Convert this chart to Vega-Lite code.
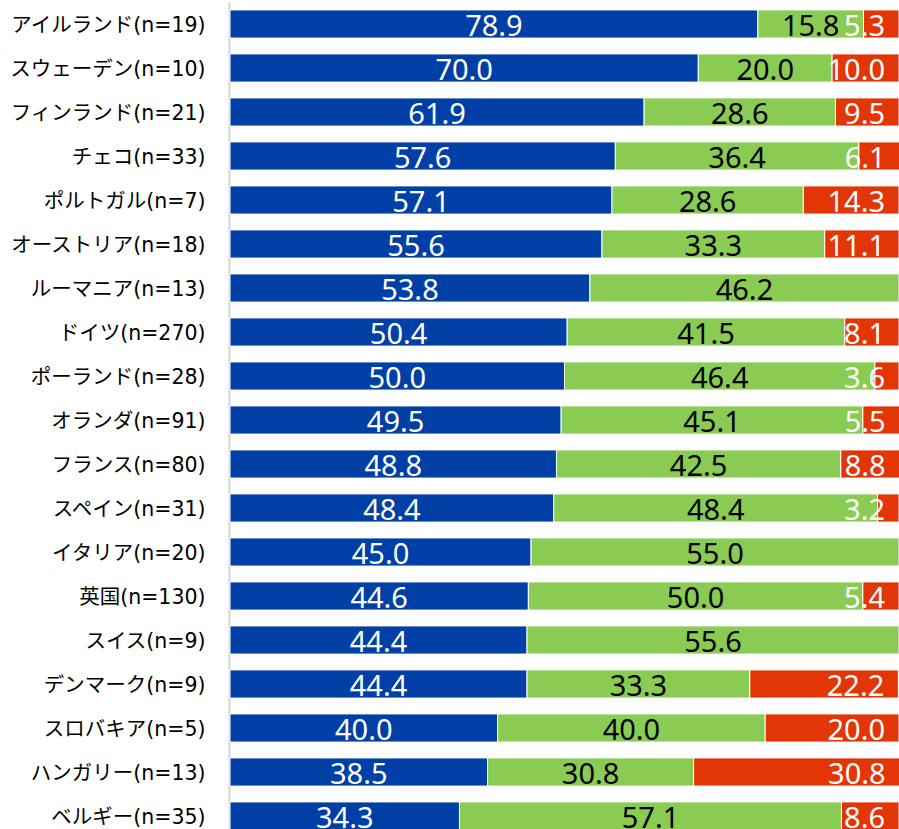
{
  "$schema": "https://vega.github.io/schema/vega-lite/v6.json",
  "width": 669,
  "height": 836,
  "autosize": "none",
  "padding": {"left": 230, "top": 2, "right": 0, "bottom": 0},
  "background": "white",
  "config": {
    "view": {"stroke": null},
    "font": "Noto Sans CJK JP"
  },
  "data": {
    "values": [
      {"c": "アイルランド(n=19)", "k": "a", "v": 78.9},
      {"c": "アイルランド(n=19)", "k": "b", "v": 15.8},
      {"c": "アイルランド(n=19)", "k": "c", "v": 5.3},
      {"c": "スウェーデン(n=10)", "k": "a", "v": 70.0},
      {"c": "スウェーデン(n=10)", "k": "b", "v": 20.0},
      {"c": "スウェーデン(n=10)", "k": "c", "v": 10.0},
      {"c": "フィンランド(n=21)", "k": "a", "v": 61.9},
      {"c": "フィンランド(n=21)", "k": "b", "v": 28.6},
      {"c": "フィンランド(n=21)", "k": "c", "v": 9.5},
      {"c": "チェコ(n=33)", "k": "a", "v": 57.6},
      {"c": "チェコ(n=33)", "k": "b", "v": 36.4},
      {"c": "チェコ(n=33)", "k": "c", "v": 6.1},
      {"c": "ポルトガル(n=7)", "k": "a", "v": 57.1},
      {"c": "ポルトガル(n=7)", "k": "b", "v": 28.6},
      {"c": "ポルトガル(n=7)", "k": "c", "v": 14.3},
      {"c": "オーストリア(n=18)", "k": "a", "v": 55.6},
      {"c": "オーストリア(n=18)", "k": "b", "v": 33.3},
      {"c": "オーストリア(n=18)", "k": "c", "v": 11.1},
      {"c": "ルーマニア(n=13)", "k": "a", "v": 53.8},
      {"c": "ルーマニア(n=13)", "k": "b", "v": 46.2},
      {"c": "ドイツ(n=270)", "k": "a", "v": 50.4},
      {"c": "ドイツ(n=270)", "k": "b", "v": 41.5},
      {"c": "ドイツ(n=270)", "k": "c", "v": 8.1},
      {"c": "ポーランド(n=28)", "k": "a", "v": 50.0},
      {"c": "ポーランド(n=28)", "k": "b", "v": 46.4},
      {"c": "ポーランド(n=28)", "k": "c", "v": 3.6},
      {"c": "オランダ(n=91)", "k": "a", "v": 49.5},
      {"c": "オランダ(n=91)", "k": "b", "v": 45.1},
      {"c": "オランダ(n=91)", "k": "c", "v": 5.5},
      {"c": "フランス(n=80)", "k": "a", "v": 48.8},
      {"c": "フランス(n=80)", "k": "b", "v": 42.5},
      {"c": "フランス(n=80)", "k": "c", "v": 8.8},
      {"c": "スペイン(n=31)", "k": "a", "v": 48.4},
      {"c": "スペイン(n=31)", "k": "b", "v": 48.4},
      {"c": "スペイン(n=31)", "k": "c", "v": 3.2},
      {"c": "イタリア(n=20)", "k": "a", "v": 45.0},
      {"c": "イタリア(n=20)", "k": "b", "v": 55.0},
      {"c": "英国(n=130)", "k": "a", "v": 44.6},
      {"c": "英国(n=130)", "k": "b", "v": 50.0},
      {"c": "英国(n=130)", "k": "c", "v": 5.4},
      {"c": "スイス(n=9)", "k": "a", "v": 44.4},
      {"c": "スイス(n=9)", "k": "b", "v": 55.6},
      {"c": "デンマーク(n=9)", "k": "a", "v": 44.4},
      {"c": "デンマーク(n=9)", "k": "b", "v": 33.3},
      {"c": "デンマーク(n=9)", "k": "c", "v": 22.2},
      {"c": "スロバキア(n=5)", "k": "a", "v": 40.0},
      {"c": "スロバキア(n=5)", "k": "b", "v": 40.0},
      {"c": "スロバキア(n=5)", "k": "c", "v": 20.0},
      {"c": "ハンガリー(n=13)", "k": "a", "v": 38.5},
      {"c": "ハンガリー(n=13)", "k": "b", "v": 30.8},
      {"c": "ハンガリー(n=13)", "k": "c", "v": 30.8},
      {"c": "ベルギー(n=35)", "k": "a", "v": 34.3},
      {"c": "ベルギー(n=35)", "k": "b", "v": 57.1},
      {"c": "ベルギー(n=35)", "k": "c", "v": 8.6}
    ]
  },
  "encoding": {
    "y": {
      "field": "c",
      "type": "nominal",
      "sort": null,
      "scale": {"paddingInner": 0.36, "paddingOuter": 0.18},
      "axis": {
        "title": null,
        "ticks": false,
        "domain": true,
        "domainColor": "#d4d4d4",
        "domainWidth": 2,
        "offset": 1,
        "labelFont": "DejaVu Sans, Noto Sans CJK JP",
        "labelFontSize": 20.5,
        "labelColor": "#000000",
        "labelPadding": 24,
        "labelLimit": 230,
        "labelBaseline": "middle",
        "labelOffset": 2
      }
    }
  },
  "layer": [
    {
      "mark": {"type": "bar", "stroke": "white", "strokeWidth": 1},
      "encoding": {
        "x": {
          "field": "v",
          "type": "quantitative",
          "stack": "zero",
          "scale": {"domain": [0, 100], "nice": false},
          "axis": null
        },
        "order": {"field": "k", "sort": "ascending"},
        "color": {
          "field": "k",
          "type": "nominal",
          "scale": {"domain": ["a", "b", "c"], "range": ["#0040A6", "#8ACB53", "#E23606"]},
          "legend": null
        }
      }
    },
    {
      "mark": {"type": "text", "font": "Noto Sans", "fontSize": 29, "baseline": "alphabetic", "dy": 12, "align": "center"},
      "encoding": {
        "x": {"field": "v", "type": "quantitative", "stack": "zero", "bandPosition": 0.5},
        "order": {"field": "k", "sort": "ascending"},
        "text": {
          "field": "v",
          "type": "quantitative",
          "format": ".1f",
          "condition": {"test": "datum.k === 'c'", "value": ""}
        },
        "color": {
          "condition": {"test": "datum.k === 'b'", "value": "#000000"},
          "value": "#ffffff"
        }
      }
    },
    {
      "transform": [
        {"stack": "v", "groupby": ["c"], "sort": [{"field": "k", "order": "ascending"}], "as": ["s0", "s1"]},
        {"filter": "datum.k === 'c'"}
      ],
      "mark": {"type": "text", "font": "Noto Sans", "fontSize": 29, "baseline": "alphabetic", "dy": 12, "align": "right", "dx": -14, "color": "#ffffff"},
      "encoding": {
        "x": {"field": "s1", "type": "quantitative"},
        "text": {"field": "v", "type": "quantitative", "format": ".1f"}
      }
    }
  ]
}
